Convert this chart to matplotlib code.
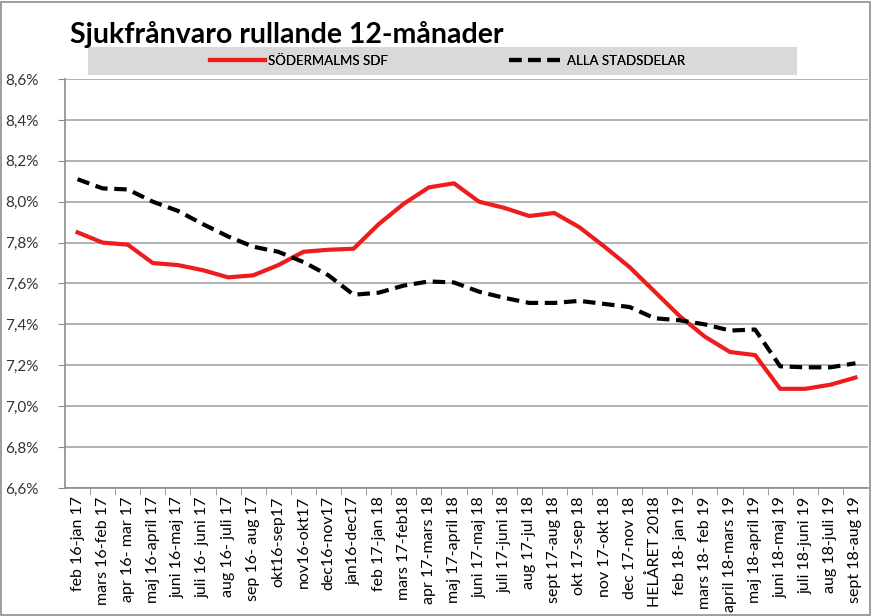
import matplotlib
matplotlib.use("Agg")
import matplotlib.pyplot as plt
from matplotlib.patches import Rectangle
from matplotlib.ticker import FuncFormatter, MultipleLocator

plt.rcParams["font.family"] = ["Lato", "DejaVu Sans"]

# rolling 12-month periods
periods = [
    "feb 16-jan 17", "mars 16-feb 17", "apr 16- mar 17", "maj 16-april 17",
    "juni 16-maj 17", "juli 16- juni 17", "aug 16- juli 17", "sep 16- aug 17",
    "okt16-sep17", "nov16-okt17", "dec16-nov17", "jan16-dec17",
    "feb 17-jan 18", "mars 17-feb18", "apr 17-mars 18", "maj 17-april 18",
    "juni 17-maj 18", "juli 17-juni 18", "aug 17-jul 18", "sept 17-aug 18",
    "okt 17-sep 18", "nov 17-okt 18", "dec 17-nov 18", "HELÅRET 2018",
    "feb 18- jan 19", "mars 18- feb 19", "april 18-mars 19", "maj 18-april 19",
    "juni 18-maj 19", "juli 18-juni 19", "aug 18-juli 19", "sept 18-aug 19",
]

sodermalm = [
    7.85, 7.80, 7.79, 7.70, 7.69, 7.665, 7.63, 7.64,
    7.69, 7.755, 7.765, 7.77, 7.89, 7.99, 8.07, 8.09,
    8.00, 7.97, 7.93, 7.945, 7.875, 7.78, 7.68, 7.56,
    7.44, 7.34, 7.265, 7.25, 7.085, 7.085, 7.105, 7.14,
]

alla = [
    8.11, 8.065, 8.06, 8.00, 7.955, 7.89, 7.83, 7.78,
    7.755, 7.705, 7.64, 7.545, 7.555, 7.59, 7.61, 7.605,
    7.56, 7.53, 7.505, 7.505, 7.515, 7.50, 7.485, 7.43,
    7.42, 7.40, 7.37, 7.375, 7.195, 7.19, 7.19, 7.21,
]

W, H = 872, 616
fig = plt.figure(figsize=(W / 100, H / 100), dpi=100)
fig.patch.set_facecolor("white")

# outer frame
fig.patches.append(Rectangle((1 / W, 1 / H), (W - 3) / W, (H - 3) / H,
                             transform=fig.transFigure, fill=False,
                             edgecolor="#8c8c8c", linewidth=1.2))

# plot area in pixels: x 65..868, y 79..488 (from top)
ax = fig.add_axes([65 / W, 1 - 488 / H, (868 - 65) / W, (488 - 79) / H])

x = list(range(len(periods)))
red_line, = ax.plot(x, sodermalm, color="#ee1c1c", linewidth=3,
                    label="SÖDERMALMS SDF", solid_joinstyle="round")
black_line, = ax.plot(x, alla, color="black", linewidth=3,
                      linestyle=(0, (3, 1.6)), label="ALLA STADSDELAR")

ax.set_xlim(-0.5, len(periods) - 0.5)
ax.set_ylim(6.6, 8.6)
ax.yaxis.set_major_locator(MultipleLocator(0.2))
ax.yaxis.set_major_formatter(FuncFormatter(lambda v, p: f"{v:.1f}%".replace(".", ",")))
ax.grid(axis="y", color="#a6a6a6", linewidth=1.2)
ax.set_axisbelow(True)

ax.set_xticks(x)
ax.set_xticklabels(periods, rotation=90, fontsize=11.5)
ax.set_xticks([i + 0.5 for i in x[:-1]], minor=True)
ax.tick_params(axis="x", which="major", length=0, pad=6)
ax.tick_params(axis="x", which="minor", length=5, color="#8c8c8c")
ax.tick_params(axis="y", length=5, color="#8c8c8c", labelsize=11, pad=14,
               labelcolor="#333333")

for side in ["top", "right"]:
    ax.spines[side].set_visible(False)
ax.spines["left"].set_color("#8c8c8c")
ax.spines["bottom"].set_color("#8c8c8c")
ax.spines["left"].set_linewidth(1.2)
ax.spines["bottom"].set_linewidth(1.2)

# title
fig.text(70 / W, 1 - 35 / H, "Sjukfrånvaro rullande 12-månader",
         fontsize=20.5, fontweight="bold", va="center")

# legend band
fig.patches.append(Rectangle((88 / W, 1 - 75 / H), (797 - 88) / W, 28 / H,
                             transform=fig.transFigure, facecolor="#d9d9d9",
                             edgecolor="none"))
for line, x0 in [(red_line, 210), (black_line, 509)]:
    leg = fig.legend(handles=[line], loc="center left",
                     bbox_to_anchor=(x0 / W, 1 - 61 / H), frameon=False,
                     fontsize=9.5, handlelength=4.2, handletextpad=0.2,
                     borderpad=0, borderaxespad=0)
    fig.add_artist(leg)

fig.savefig("out.png", dpi=100)
